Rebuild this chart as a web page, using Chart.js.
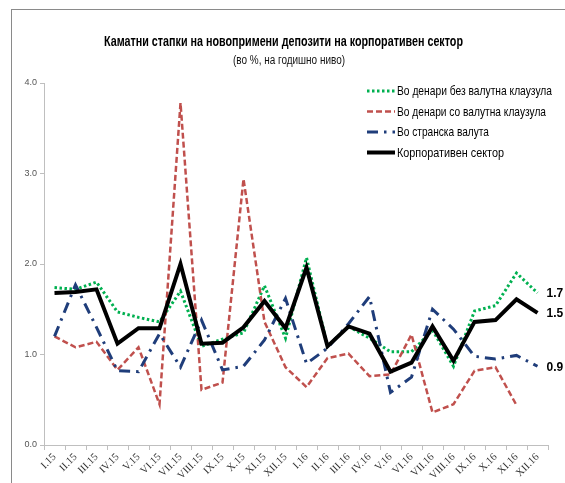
<!DOCTYPE html>
<html>
<head>
<meta charset="utf-8">
<script src="https://cdn.jsdelivr.net/npm/chart.js@4"></script>
<style>
  html, body { margin: 0; padding: 0; background: #fff; }
  #wrap { position: relative; width: 565px; height: 483px; overflow: hidden; }
  canvas { position: absolute; left: 0; top: 0; }
</style>
</head>
<body>
<div id="wrap"><canvas id="c" width="565" height="483"></canvas></div>
<script>
const categories = ["I.15","II.15","III.15","IV.15","V.15","VI.15","VII.15","VIII.15","IX.15","X.15","XI.15","XII.15",
                    "I.16","II.16","III.16","IV.16","V.16","VI.16","VII.16","VIII.16","IX.16","X.16","XI.16","XII.16"];
const denariBezKlauzula = [1.74,1.72,1.80,1.47,1.41,1.36,1.70,1.09,1.17,1.24,1.76,1.18,
                           2.07,1.09,1.31,1.18,1.03,1.03,1.27,0.87,1.48,1.54,1.90,1.68];
const denariSoKlauzula  = [1.20,1.08,1.14,0.83,1.08,0.45,3.78,0.61,0.69,2.94,1.36,0.86,
                           0.64,0.96,1.01,0.76,0.78,1.22,0.36,0.45,0.82,0.86,0.44,null];
const stranskaValuta    = [1.20,1.77,1.30,0.82,0.81,1.23,0.86,1.38,0.83,0.87,1.16,1.62,
                           0.90,1.07,1.34,1.64,0.58,0.75,1.50,1.28,0.98,0.95,0.99,0.87];
const korporativen      = [1.68,1.69,1.72,1.12,1.29,1.29,2.00,1.12,1.13,1.30,1.59,1.29,
                           1.96,1.09,1.31,1.23,0.81,0.91,1.31,0.93,1.36,1.38,1.61,1.46];
const yTicks = [0, 1, 2, 3, 4];
const seriesNames = ["Во денари без валутна клаузула","Во денари со валутна клаузула","Во странска валута","Корпоративен сектор"];
const endLabels = ["1.7", null, "0.9", "1.5"];
const titleText = "Каматни стапки на новопримени депозити на корпоративен сектор";
const subtitleText = "(во %, на годишно ниво)";

const styles = [
  { color: "#00B050", width: 3, dash: [2.5, 2.5], cap: "butt" },
  { color: "#C0504D", width: 2.5, dash: [6, 3], cap: "butt" },
  { color: "#1F3D7A", width: 3, dash: [11, 6, 2.5, 6], cap: "butt" },
  { color: "#000000", width: 4, dash: [], cap: "butt" }
];
const seriesData = [denariBezKlauzula, denariSoKlauzula, stranskaValuta, korporativen];

function fitText(ctx, text, x, y, targetW, font, align) {
  ctx.save();
  ctx.font = font;
  const w = ctx.measureText(text).width;
  const s = targetW / w;
  ctx.translate(x, y);
  ctx.scale(s, 1);
  ctx.textAlign = align;
  ctx.fillText(text, 0, 0);
  ctx.restore();
}

const decor = {
  id: "decor",
  beforeDraw(chart) {
    const ctx = chart.ctx;
    ctx.save();
    ctx.fillStyle = "#fff";
    ctx.fillRect(0, 0, chart.width, chart.height);
    ctx.strokeStyle = "#8a8a8a";
    ctx.lineWidth = 1;
    ctx.strokeRect(11.5, 9.5, 570, 490);
    ctx.restore();
  },
  afterDraw(chart) {
    const ctx = chart.ctx;
    ctx.save();
    ctx.fillStyle = "#000";
    ctx.textBaseline = "middle";
    fitText(ctx, titleText, 283.5, 42, 359, "bold 14.5px 'Liberation Sans Narrow', 'Liberation Sans', Arial, sans-serif", "center");
    ctx.fillStyle = "#111";
    fitText(ctx, subtitleText, 289, 61, 112, "12px 'Liberation Sans Narrow', 'Liberation Sans', Arial, sans-serif", "center");
    // legend
    const ly = [91, 111.5, 132, 152.5];
    const widths = [155, 149, 92, 107];
    for (let i = 0; i < 4; i++) {
      const st = styles[i];
      ctx.save();
      ctx.strokeStyle = st.color;
      ctx.lineWidth = st.width;
      ctx.setLineDash(st.dash);
      ctx.lineCap = st.cap;
      ctx.beginPath();
      ctx.moveTo(367, ly[i]);
      ctx.lineTo(395, ly[i]);
      ctx.stroke();
      ctx.restore();
      ctx.fillStyle = "#000";
      ctx.textBaseline = "middle";
      fitText(ctx, seriesNames[i], 397, ly[i] + 0.5, widths[i], "13.5px 'Liberation Sans Narrow', 'Liberation Sans', Arial, sans-serif", "left");
    }
    // end labels
    ctx.font = "bold 12px 'Liberation Sans', Arial, sans-serif";
    ctx.textAlign = "left";
    ctx.textBaseline = "middle";
    ctx.fillStyle = "#000";
    for (let i = 0; i < 4; i++) {
      if (!endLabels[i]) continue;
      const meta = chart.getDatasetMeta(i);
      const pt = meta.data[meta.data.length - 1];
      ctx.fillText(endLabels[i], pt.x + 9, pt.y + 1);
    }
    ctx.restore();
  }
};

new Chart(document.getElementById("c"), {
  type: "line",
  data: {
    labels: categories,
    datasets: seriesData.map((d, i) => ({
      label: seriesNames[i],
      data: d,
      borderColor: styles[i].color,
      borderWidth: styles[i].width,
      borderDash: styles[i].dash,
      borderCapStyle: styles[i].cap,
      borderJoinStyle: "miter",
      pointRadius: 0,
      pointHoverRadius: 0,
      tension: 0,
      fill: false,
      spanGaps: false,
      order: 3 - i
    }))
  },
  options: {
    responsive: false,
    devicePixelRatio: 1,
    animation: false,
    events: [],
    layout: { padding: { left: 0, top: 83, right: 17, bottom: 0 } },
    plugins: { legend: { display: false }, title: { display: false }, tooltip: { enabled: false } },
    scales: {
      x: {
        offset: true,
        grid: { offset: true, drawOnChartArea: false, drawTicks: true, tickLength: 5, color: "#bfbfbf" },
        border: { color: "#bfbfbf", width: 1 },
        ticks: {
          autoSkip: false, maxRotation: 45, minRotation: 45, padding: 1,
          color: "#333",
          font: { family: "'Liberation Serif', 'Times New Roman', serif", size: 10.5 }
        },
        afterFit(s) { s.height = 38; }
      },
      y: {
        min: yTicks[0], max: yTicks[yTicks.length - 1],
        afterBuildTicks(s) { s.ticks = yTicks.map(v => ({ value: v })); },
        grid: { drawOnChartArea: false, drawTicks: true, tickLength: 4, color: "#bfbfbf" },
        border: { color: "#bfbfbf", width: 1 },
        ticks: {
          padding: 3, color: "#555",
          font: { family: "'Liberation Sans', Arial, sans-serif", size: 9 },
          callback: v => Number(v).toFixed(1)
        },
        afterFit(s) { s.width = 44; }
      }
    }
  },
  plugins: [decor]
});
</script>
</body>
</html>
